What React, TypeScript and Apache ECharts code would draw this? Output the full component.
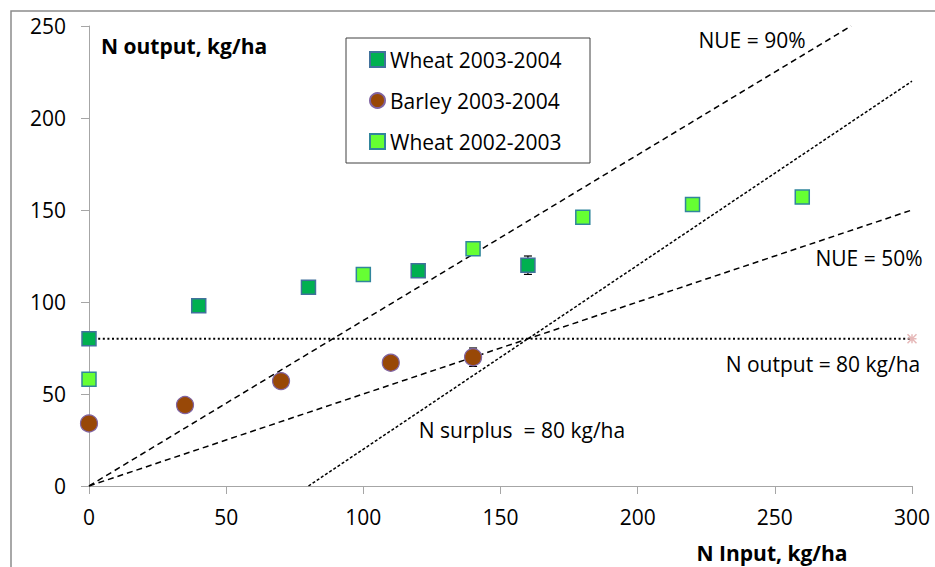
import React, { useEffect, useRef } from "react";
import * as echarts from "echarts";

// ---- data ----
const xTickInterval = 50;
const yTickInterval = 50;
const xMax = 300;
const yMax = 250;

const wheat0304Name = "Wheat 2003-2004";
const barley0304Name = "Barley 2003-2004";
const wheat0203Name = "Wheat 2002-2003";

const wheat0304 = [[0, 80], [40, 98], [80, 108], [120, 117], [160, 120]];
const barley0304 = [[0, 34], [35, 44], [70, 57], [110, 67], [140, 70]];
const wheat0203 = [[0, 58], [100, 115], [140, 129], [180, 146], [220, 153], [260, 157]];
// [x, low, high]
const errorBars = [[160, 115, 125], [140, 65, 75]];

const nue90Line = [[0, 0], [277.8, 250]];
const nue50Line = [[0, 0], [300, 150]];
const surplus80Line = [[80, 0], [300, 220]];
const output80Line = [[0, 80], [300, 80]];
const output80End = [[300, 80]];

const FONT = "Open Sans";
const FS = 21;

export default function App() {
  const ref = useRef<HTMLDivElement>(null);
  useEffect(() => {
    document.body.style.margin = "0";
    const chart = echarts.init(ref.current!, null, { renderer: "svg" });
    const textStyle = (text: string, x: number, y: number, opts: any = {}) => ({
      type: "text",
      x,
      y,
      silent: true,
      z: 10,
      style: {
        text,
        fontSize: FS,
        fontFamily: FONT,
        fill: "#000",
        align: "center",
        verticalAlign: "middle",
        ...opts,
      },
    });
    chart.setOption({
      animation: false,
      backgroundColor: "#fff",
      grid: { left: 89, right: 23, top: 26, bottom: 81, containLabel: false },
      xAxis: {
        type: "value",
        min: 0,
        max: xMax,
        interval: xTickInterval,
        splitLine: { show: false },
        axisLine: { show: true, onZero: false, lineStyle: { color: "#a6a6a6", width: 1 } },
        axisTick: { show: true, length: 8, lineStyle: { color: "#a6a6a6" } },
        axisLabel: { fontSize: FS, fontFamily: FONT, color: "#000", margin: 20 },
      },
      yAxis: {
        type: "value",
        min: 0,
        max: yMax,
        interval: yTickInterval,
        splitLine: { show: false },
        axisLine: { show: true, onZero: false, lineStyle: { color: "#a6a6a6", width: 1 } },
        axisTick: { show: true, length: 8, lineStyle: { color: "#a6a6a6" } },
        axisLabel: { fontSize: FS, fontFamily: FONT, color: "#000", margin: 23 },
      },
      legend: {
        data: [wheat0304Name, barley0304Name, wheat0203Name],
        orient: "vertical",
        left: 369,
        top: 49,
        padding: 0,
        itemWidth: 15,
        itemHeight: 15,
        itemGap: 20,
        z: 20,
        textStyle: { fontSize: FS, fontFamily: FONT, color: "#000", lineHeight: 21 },
      },
      graphic: [
        {
          type: "rect",
          silent: true,
          z: -10,
          shape: { x: 11, y: 11, width: 1000, height: 1000 },
          style: { fill: "none", stroke: "#8c8c8c", lineWidth: 1.5 },
        },
        {
          type: "rect",
          silent: true,
          z: 5,
          shape: { x: 346, y: 38, width: 244, height: 125 },
          style: { fill: "#fff", stroke: "#404040", lineWidth: 1 },
        },
        textStyle("N output, kg/ha", 101, 46, { align: "left", fontWeight: "bold" }),
        textStyle("N Input, kg/ha", 772, 553, { fontWeight: "bold" }),
        textStyle("NUE = 90%", 752, 40),
        textStyle("NUE = 50%", 869, 258),
        textStyle("N output = 80 kg/ha", 823, 364),
        textStyle("N surplus  = 80 kg/ha", 522, 430),
      ],
      series: [
        {
          type: "line",
          data: nue90Line,
          showSymbol: false,
          symbol: "none",
          lineStyle: { color: "#000", width: 1.5, type: [6, 4] },
          z: 2,
          silent: true,
        },
        {
          type: "line",
          data: nue50Line,
          showSymbol: false,
          symbol: "none",
          lineStyle: { color: "#000", width: 1.5, type: [6, 4] },
          z: 2,
          silent: true,
        },
        {
          type: "line",
          data: surplus80Line,
          showSymbol: false,
          symbol: "none",
          lineStyle: { color: "#000", width: 1.5, type: [3, 2] },
          z: 2,
          silent: true,
        },
        {
          type: "line",
          data: output80Line,
          showSymbol: false,
          symbol: "none",
          lineStyle: { color: "#000", width: 2, type: [2, 2.6] },
          z: 2,
          silent: true,
        },
        {
          type: "scatter",
          data: output80End,
          symbol: "path://M0,0L10,10M10,0L0,10M5,0L5,10M0,5L10,5",
          symbolSize: 9,
          itemStyle: { color: "none", borderColor: "#e0a8a8", borderWidth: 1.5 },
          z: 3,
          silent: true,
        },
        {
          type: "custom",
          data: errorBars,
          z: 4,
          silent: true,
          encode: { x: 0, y: [1, 2] },
          renderItem: (params: any, api: any) => {
            const x = api.value(0);
            const lo = api.coord([x, api.value(1)]);
            const hi = api.coord([x, api.value(2)]);
            const w = 4;
            const st = { stroke: "#000", lineWidth: 1.2 };
            return {
              type: "group",
              children: [
                { type: "line", shape: { x1: lo[0], y1: lo[1], x2: hi[0], y2: hi[1] }, style: st },
                { type: "line", shape: { x1: lo[0] - w, y1: lo[1], x2: lo[0] + w, y2: lo[1] }, style: st },
                { type: "line", shape: { x1: hi[0] - w, y1: hi[1], x2: hi[0] + w, y2: hi[1] }, style: st },
              ],
            };
          },
        },
        {
          name: wheat0304Name,
          type: "scatter",
          data: wheat0304,
          symbol: "rect",
          symbolSize: 14,
          z: 6,
          itemStyle: { color: "#00b050", borderColor: "#41719c", borderWidth: 1.5, opacity: 1 },
        },
        {
          name: barley0304Name,
          type: "scatter",
          data: barley0304,
          symbol: "circle",
          symbolSize: 17,
          z: 6,
          itemStyle: { color: "#984807", borderColor: "#8064a2", borderWidth: 1.2, opacity: 1 },
        },
        {
          name: wheat0203Name,
          type: "scatter",
          data: wheat0203,
          symbol: "rect",
          symbolSize: 14,
          z: 6,
          itemStyle: { color: "#66ff33", borderColor: "#31859c", borderWidth: 1.5, opacity: 1 },
        },
      ],
    });
    return () => chart.dispose();
  }, []);
  return <div ref={ref} style={{ width: 935, height: 567 }} />;
}
